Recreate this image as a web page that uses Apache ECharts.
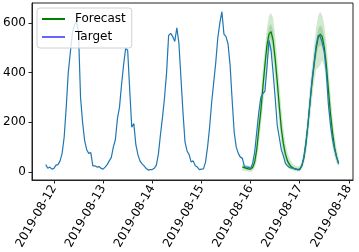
<!DOCTYPE html>
<html>
<head>
<meta charset="utf-8">
<title></title>
<script src="https://cdn.jsdelivr.net/npm/echarts@6/dist/echarts.min.js"></script>
</head>
<body style="margin:0">
<div id="main" style="width:359px;height:252px;"></div>
<script type="text/javascript">

// hours counted from 2019-08-12 00:00
let TICK_HOURS = [0, 24, 48, 72, 96, 120, 144];
let TICK_LABELS = ['2019-08-12', '2019-08-13', '2019-08-14', '2019-08-15', '2019-08-16', '2019-08-17', '2019-08-18'];
let Y_TICKS = [0, 200, 400, 600];

// target: hourly, starts 2019-08-11 20:00 (hour -4)
let TARGET_START = -4;
let TARGET = [
	30, 15, 20, 12,
	15, 28, 30, 45, 75, 140, 260, 400, 480, 560, 590, 610, 560, 300, 200, 126, 90, 75, 78, 25, 25, 20, 22, 15,
	12, 20, 30, 45, 58, 100, 130, 215, 260, 350, 430, 497, 490, 330, 180, 195, 110, 70, 45, 33, 25, 15, 8, 10,
	10, 15, 28, 72, 150, 220, 300, 400, 550, 558, 545, 525, 580, 520, 380, 240, 120, 85, 70, 40, 45, 25, 20, 10,
	12, 13, 40, 100, 180, 280, 360, 440, 540, 600, 645, 555, 545, 515, 430, 290, 160, 100, 75, 60, 55, 22, 20, 20,
	13, 35, 80, 160, 240, 300, 315, 325, 420, 530, 490, 400, 300, 190, 140, 90, 65, 35, 25, 18, 17, 15, 13, 10,
	9, 25, 60, 120, 190, 280, 370, 440, 510, 550, 545, 520, 480, 400, 270, 190, 130, 90, 60, 33
];

// forecast: hourly, starts 2019-08-15 20:00 (hour 92)
let FC_START = 92;
let FC_MEDIAN = [
	20, 18, 15, 13, 12, 18, 40, 90, 170, 245, 340, 430, 510, 555, 565, 530, 455, 365, 265, 175, 115, 72, 45, 30,
	20, 15, 12, 10, 12, 25, 55, 110, 190, 280, 360, 430, 495, 540, 555, 545, 500, 430, 330, 235, 160, 100, 60, 35
];
let FC_LOW90 = [
	5, 5, 3, 2, 0, 5, 15, 45, 110, 180, 260, 350, 430, 480, 490, 450, 370, 280, 190, 110, 60, 35, 20, 12,
	8, 5, 3, 2, 3, 10, 30, 70, 130, 210, 290, 360, 410, 420, 430, 450, 420, 350, 250, 160, 100, 60, 35, 20
];
let FC_HIGH90 = [
	35, 30, 28, 25, 25, 35, 70, 140, 240, 320, 420, 500, 580, 630, 640, 620, 550, 460, 360, 260, 180, 120, 80, 55,
	40, 30, 25, 22, 25, 45, 90, 160, 250, 350, 430, 510, 580, 630, 645, 630, 590, 520, 420, 320, 220, 150, 95, 60
];
let FC_LOW50 = [
	14, 13, 10, 8, 7, 12, 28, 70, 140, 215, 305, 400, 480, 525, 535, 495, 415, 325, 225, 140, 90, 55, 33, 22,
	13, 10, 8, 6, 7, 18, 42, 90, 165, 250, 330, 400, 460, 500, 510, 505, 465, 390, 290, 200, 135, 80, 45, 25
];
let FC_HIGH50 = [
	25, 22, 20, 18, 17, 25, 55, 110, 200, 280, 375, 460, 540, 585, 595, 570, 495, 405, 305, 210, 140, 90, 58, 38,
	27, 20, 17, 15, 17, 33, 70, 130, 215, 310, 390, 460, 525, 575, 590, 580, 540, 470, 370, 270, 185, 120, 75, 45
];

function toPoints(start, values){
	return values.map((v, i) => [start + i, v]);
}

// band polygon: upper edge forward, lower edge back
function bandSeries(name, hi, lo, color){
	return {
		name: name, type: 'custom', silent: true, clip: true,
		data: [[FC_START, 0]],
		renderItem: (params, api) => {
			let pts = [];
			hi.forEach((v, i) => pts.push(api.coord([FC_START + i, v])));
			for(let i = lo.length - 1; i >= 0; i--){
				pts.push(api.coord([FC_START + i, lo[i]]));
			}
			return { type: 'polygon', shape: { points: pts }, style: { fill: color } };
		}
	};
}

let FONT = 'DejaVu Sans';
var myChart = echarts.init(document.getElementById('main'), null, { renderer: 'canvas' });

let bandColor = 'rgba(0,128,0,0.18)';

var option = {
	animation: false,
	textStyle: { fontFamily: FONT },
	grid: {
		left: 32, right: 6, top: 3, bottom: 72,
		show: true, borderColor: '#222', borderWidth: 1,
		outerBoundsMode: 'none'
	},
	legend: {
		data: ['Forecast', 'Target'],
		orient: 'vertical',
		left: 37, top: 8,
		padding: [5, 6, 5, 5],
		itemGap: 6,
		icon: 'rect',
		itemWidth: 23, itemHeight: 2,
		backgroundColor: 'rgba(255,255,255,0.8)',
		borderColor: '#d0d0d0', borderWidth: 1, borderRadius: 3,
		textStyle: { fontFamily: FONT, fontSize: 12, color: '#000', padding: [0, 0, 0, 5] },
		selectedMode: false
	},
	xAxis: {
		type: 'value',
		min: -10.7, max: 146,
		splitLine: { show: false },
		axisLine: { show: true, onZero: false, lineStyle: { color: '#222' } },
		axisTick: { show: true, length: 3.5, lineStyle: { color: '#222' }, customValues: TICK_HOURS },
		axisLabel: {
			customValues: TICK_HOURS,
			rotate: 60, margin: 6,
			fontFamily: FONT, fontSize: 12, color: '#000',
			formatter: (v) => TICK_LABELS[TICK_HOURS.indexOf(v)] || ''
		}
	},
	yAxis: {
		type: 'value',
		min: -32, max: 680,
		splitLine: { show: false },
		axisLine: { show: true, onZero: false, lineStyle: { color: '#222' } },
		axisTick: { show: true, length: 3.5, lineStyle: { color: '#222' }, customValues: Y_TICKS },
		axisLabel: {
			customValues: Y_TICKS,
			margin: 6,
			fontFamily: FONT, fontSize: 12, color: '#000'
		}
	},
	series: [
		bandSeries('band90', FC_HIGH90, FC_LOW90, bandColor),
		bandSeries('band50', FC_HIGH50, FC_LOW50, bandColor),
		{
			name: 'median', type: 'line', symbol: 'none',
			lineStyle: { color: '#008000', width: 1.2 },
			data: toPoints(FC_START, FC_MEDIAN)
		},
		{
			name: 'target', type: 'line', symbol: 'none',
			lineStyle: { color: '#1f77b4', width: 1.2 },
			data: toPoints(TARGET_START, TARGET)
		},
		// legend-only entries
		{ name: 'Forecast', type: 'line', data: [], itemStyle: { color: '#008000' }, lineStyle: { color: '#008000' } },
		{ name: 'Target', type: 'line', data: [], itemStyle: { color: '#6666ff' }, lineStyle: { color: '#6666ff' } }
	]
};

myChart.setOption(option);

</script>
</body>
</html>
